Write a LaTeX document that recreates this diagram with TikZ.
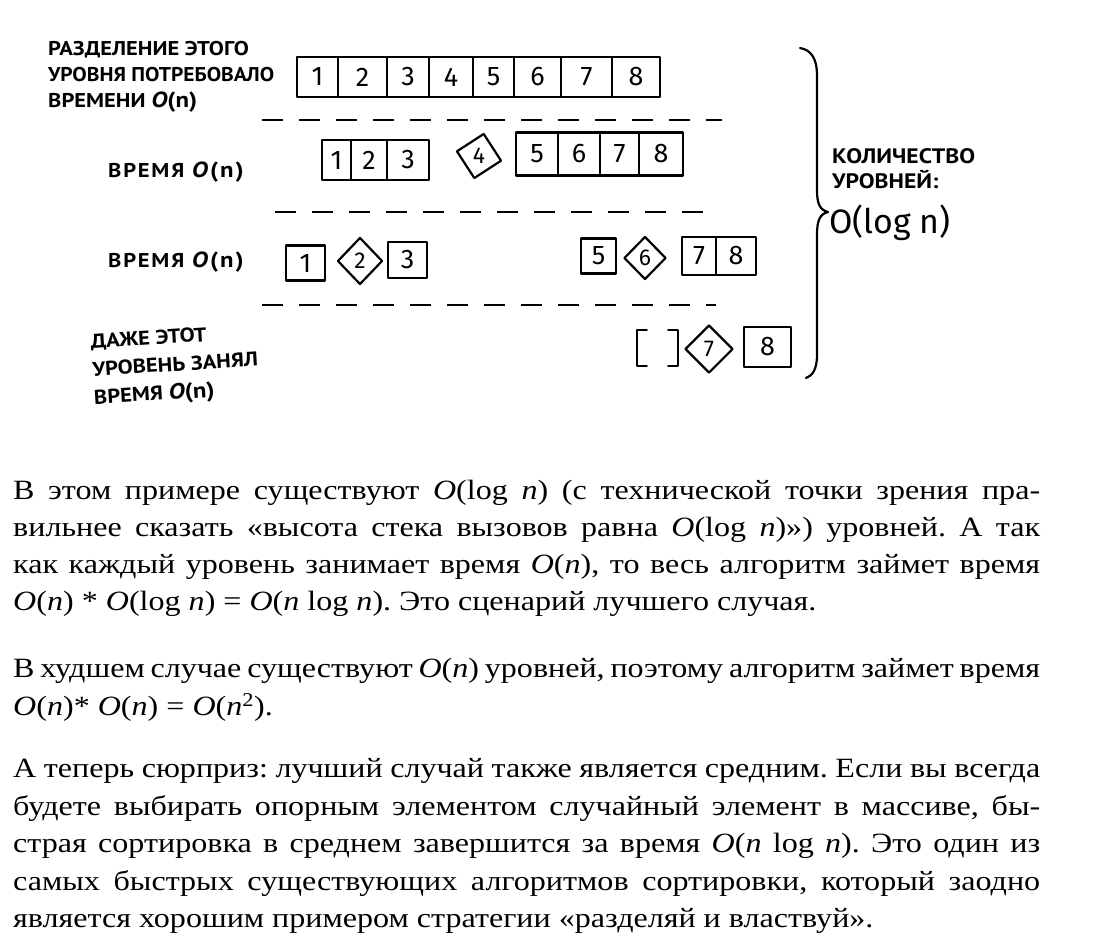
\documentclass[tikz,border=0pt]{standalone}
\usepackage{fontspec}
\setmainfont{Liberation Serif}[FakeStretch=1.15]
\newfontfamily\handfont{PT Sans}[FakeStretch=1.13]
\newfontfamily\digitfont{Fira Sans}
\usetikzlibrary{shapes.geometric}
\frenchspacing
\tikzset{
  ink/.style={line width=2.2bp, line join=round, line cap=round},
  cellbox/.style={ink, draw, rectangle, inner sep=0pt, font=\digitfont\fontsize{27}{27}\selectfont},
  diam/.style={ink, draw, diamond, inner sep=0pt, font=\digitfont\fontsize{23}{23}\selectfont},
  sepline/.style={line width=2.6bp, dash pattern=on 21bp off 16bp},
  lbl/.style={anchor=base west, inner sep=0pt, font=\handfont\bfseries\fontsize{20}{20}\selectfont},
  widelbl/.style={lbl, font=\handfont\bfseries\fontsize{20}{20}\selectfont\addfontfeature{LetterSpace=9}},
  rlbl/.style={anchor=base west, inner sep=0pt, font=\handfont\bfseries\fontsize{21}{21}\selectfont},
  body/.style={anchor=base west, inner sep=0pt, font=\fontsize{28}{30}\selectfont},
}
\newcommand{\fl}[1]{\makebox[1027bp][s]{#1}}
\newcommand{\bo}{\textit{O}}
\newcommand{\bn}{\textit{n}}
\newcommand{\On}{{\fontsize{22}{22}\selectfont\textit{O}(n)}}
\begin{document}
\begin{tikzpicture}[x=1bp, y=-1bp]
\useasboundingbox (0,0) rectangle (1094,948);
% ---------- row 1
\node[lbl] (l1a) at (48,55) {РАЗДЕЛЕНИЕ ЭТОГО};
\node[lbl] (l1b) at (48,81) {\scalebox{0.955}[1]{УРОВНЯ ПОТРЕБОВАЛО}};
\node[lbl] (l1c) at (48,107) {ВРЕМЕНИ \On};
\node[cellbox, minimum width=41bp, minimum height=40bp] (a1) at (317.5,77) {1};
\node[cellbox, minimum width=49bp, minimum height=40bp] (a2) at (362.5,77) {2};
\node[cellbox, minimum width=42bp, minimum height=40bp] (a3) at (408,77) {3};
\node[cellbox, minimum width=44bp, minimum height=40bp] (a4) at (451,77) {4};
\node[cellbox, minimum width=41bp, minimum height=40bp] (a5) at (493.5,77) {5};
\node[cellbox, minimum width=47bp, minimum height=40bp] (a6) at (537.5,77) {6};
\node[cellbox, minimum width=51bp, minimum height=40bp] (a7) at (586.5,77) {7};
\node[cellbox, minimum width=48bp, minimum height=40bp] (a8) at (636,77) {8};
\coordinate (d1s) at (262,120);
\coordinate (d1e) at (722,120);
\draw[sepline] (d1s) -- (d1e);
% ---------- row 2
\node[widelbl] (l2) at (108,177) {ВРЕМЯ \On};
\node[cellbox, minimum width=29bp, minimum height=40bp] (b1) at (336.5,160) {1};
\node[cellbox, minimum width=36bp, minimum height=40bp] (b2) at (369,160) {2};
\node[cellbox, minimum width=42bp, minimum height=40bp] (b3) at (408,160) {3};
\node[diam, minimum size=46bp, rotate=-12] (b4) at (479,156) {\rotatebox{12}{4}};
\node[cellbox, minimum width=42bp, minimum height=43bp] (b5) at (537,154) {5};
\node[cellbox, minimum width=42bp, minimum height=43bp] (b6) at (579,154) {6};
\node[cellbox, minimum width=39bp, minimum height=43bp] (b7) at (619.5,154) {7};
\node[cellbox, minimum width=44bp, minimum height=43bp] (b8) at (661,154) {8};
\coordinate (d2s) at (275,212);
\coordinate (d2e) at (716,212);
\draw[sepline] (d2s) -- (d2e);
% ---------- row 3
\node[widelbl] (l3) at (108,267) {ВРЕМЯ \On};
\node[cellbox, minimum width=39bp, minimum height=35bp] (c1) at (305.5,263) {1};
\node[diam, minimum width=45bp, minimum height=47bp] (c2) at (360,261) {2};
\node[cellbox, minimum width=39bp, minimum height=36bp] (c3) at (407.5,260) {3};
\node[cellbox, minimum width=35bp, minimum height=35bp] (c5) at (598.5,256) {5};
\node[diam, minimum width=42bp, minimum height=43bp] (c6) at (645,258) {6};
\node[cellbox, minimum width=34bp, minimum height=38bp] (c7) at (699,256) {7};
\node[cellbox, minimum width=40bp, minimum height=38bp] (c8) at (736,256) {8};
\coordinate (d3s) at (262,305);
\coordinate (d3e) at (716,305);
\draw[sepline] (d3s) -- (d3e);
% ---------- row 4
\node[anchor=north west, inner sep=0pt, rotate=3.5, align=left,
      font=\handfont\bfseries\fontsize{20}{28}\selectfont] (l4) at (90,334)
      {ДАЖЕ ЭТОТ\\УРОВЕНЬ ЗАНЯЛ\\ВРЕМЯ \On};
\node[inner sep=0pt, minimum width=41bp, minimum height=35bp] (e0) at (657.5,348) {};
\draw[ink] ([xshift=10bp]e0.north west) -- (e0.north west) -- (e0.south west) -- ([xshift=10bp]e0.south west);
\draw[ink] ([xshift=-10bp]e0.north east) -- (e0.north east) -- (e0.south east) -- ([xshift=-10bp]e0.south east);
\node[diam, minimum width=48bp, minimum height=48bp] (e7) at (709,349) {7};
\node[cellbox, minimum width=47bp, minimum height=40bp] (e8) at (767.5,347) {8};
% ---------- brace
\coordinate (bt) at (800,48);
\coordinate (btip) at (828,212);
\coordinate (bb) at (806,378);
\draw[ink] (bt) .. controls (812,50) and (817,60) .. (817,75) -- (817,190)
  .. controls (817,204) and (820,210) .. (btip)
  .. controls (820,214) and (817,220) .. (817,235) -- (817,355)
  .. controls (817,370) and (812,376) .. (bb);
\node[rlbl] (r1) at (832,163) {КОЛИЧЕСТВО};
\node[rlbl] (r2) at (832,188) {УРОВНЕЙ:};
\node[anchor=base west, inner sep=0pt, font=\digitfont\fontsize{34}{34}\selectfont] (r3) at (829,233) {O(log n)};
% ---------- body text
\node[body] (p1a) at (13,499) {\fl{В этом примере существуют \bo(log \bn) (с технической точки зрения пра-}};
\node[body] (p1b) at (13,536) {\fl{вильнее сказать «высота стека вызовов равна \bo(log \bn)») уровней. А так}};
\node[body] (p1c) at (13,573) {\fl{как каждый уровень занимает время \bo(\bn), то весь алгоритм займет время}};
\node[body] (p1d) at (13,610) {\bo(\bn) * \bo(log \bn) = \bo(\bn\ log \bn). Это сценарий лучшего случая.};
\node[body] (p2a) at (13,677) {\fl{В худшем случае существуют \bo(\bn) уровней, поэтому алгоритм займет время}};
\node[body] (p2b) at (13,715) {\bo(\bn)* \bo(\bn) = \bo(\bn\textsuperscript{2}).};
\node[body] (p3a) at (13,777) {\fl{А теперь сюрприз: лучший случай также является средним. Если вы всегда}};
\node[body] (p3b) at (13,815) {\fl{будете выбирать опорным элементом случайный элемент в массиве, бы-}};
\node[body] (p3c) at (13,852) {\fl{страя сортировка в среднем завершится за время \bo(\bn\ log \bn). Это один из}};
\node[body] (p3d) at (13,890) {\fl{самых быстрых существующих алгоритмов сортировки, который заодно}};
\node[body] (p3e) at (13,927) {является хорошим примером стратегии «разделяй и властвуй».};
\end{tikzpicture}
\end{document}
